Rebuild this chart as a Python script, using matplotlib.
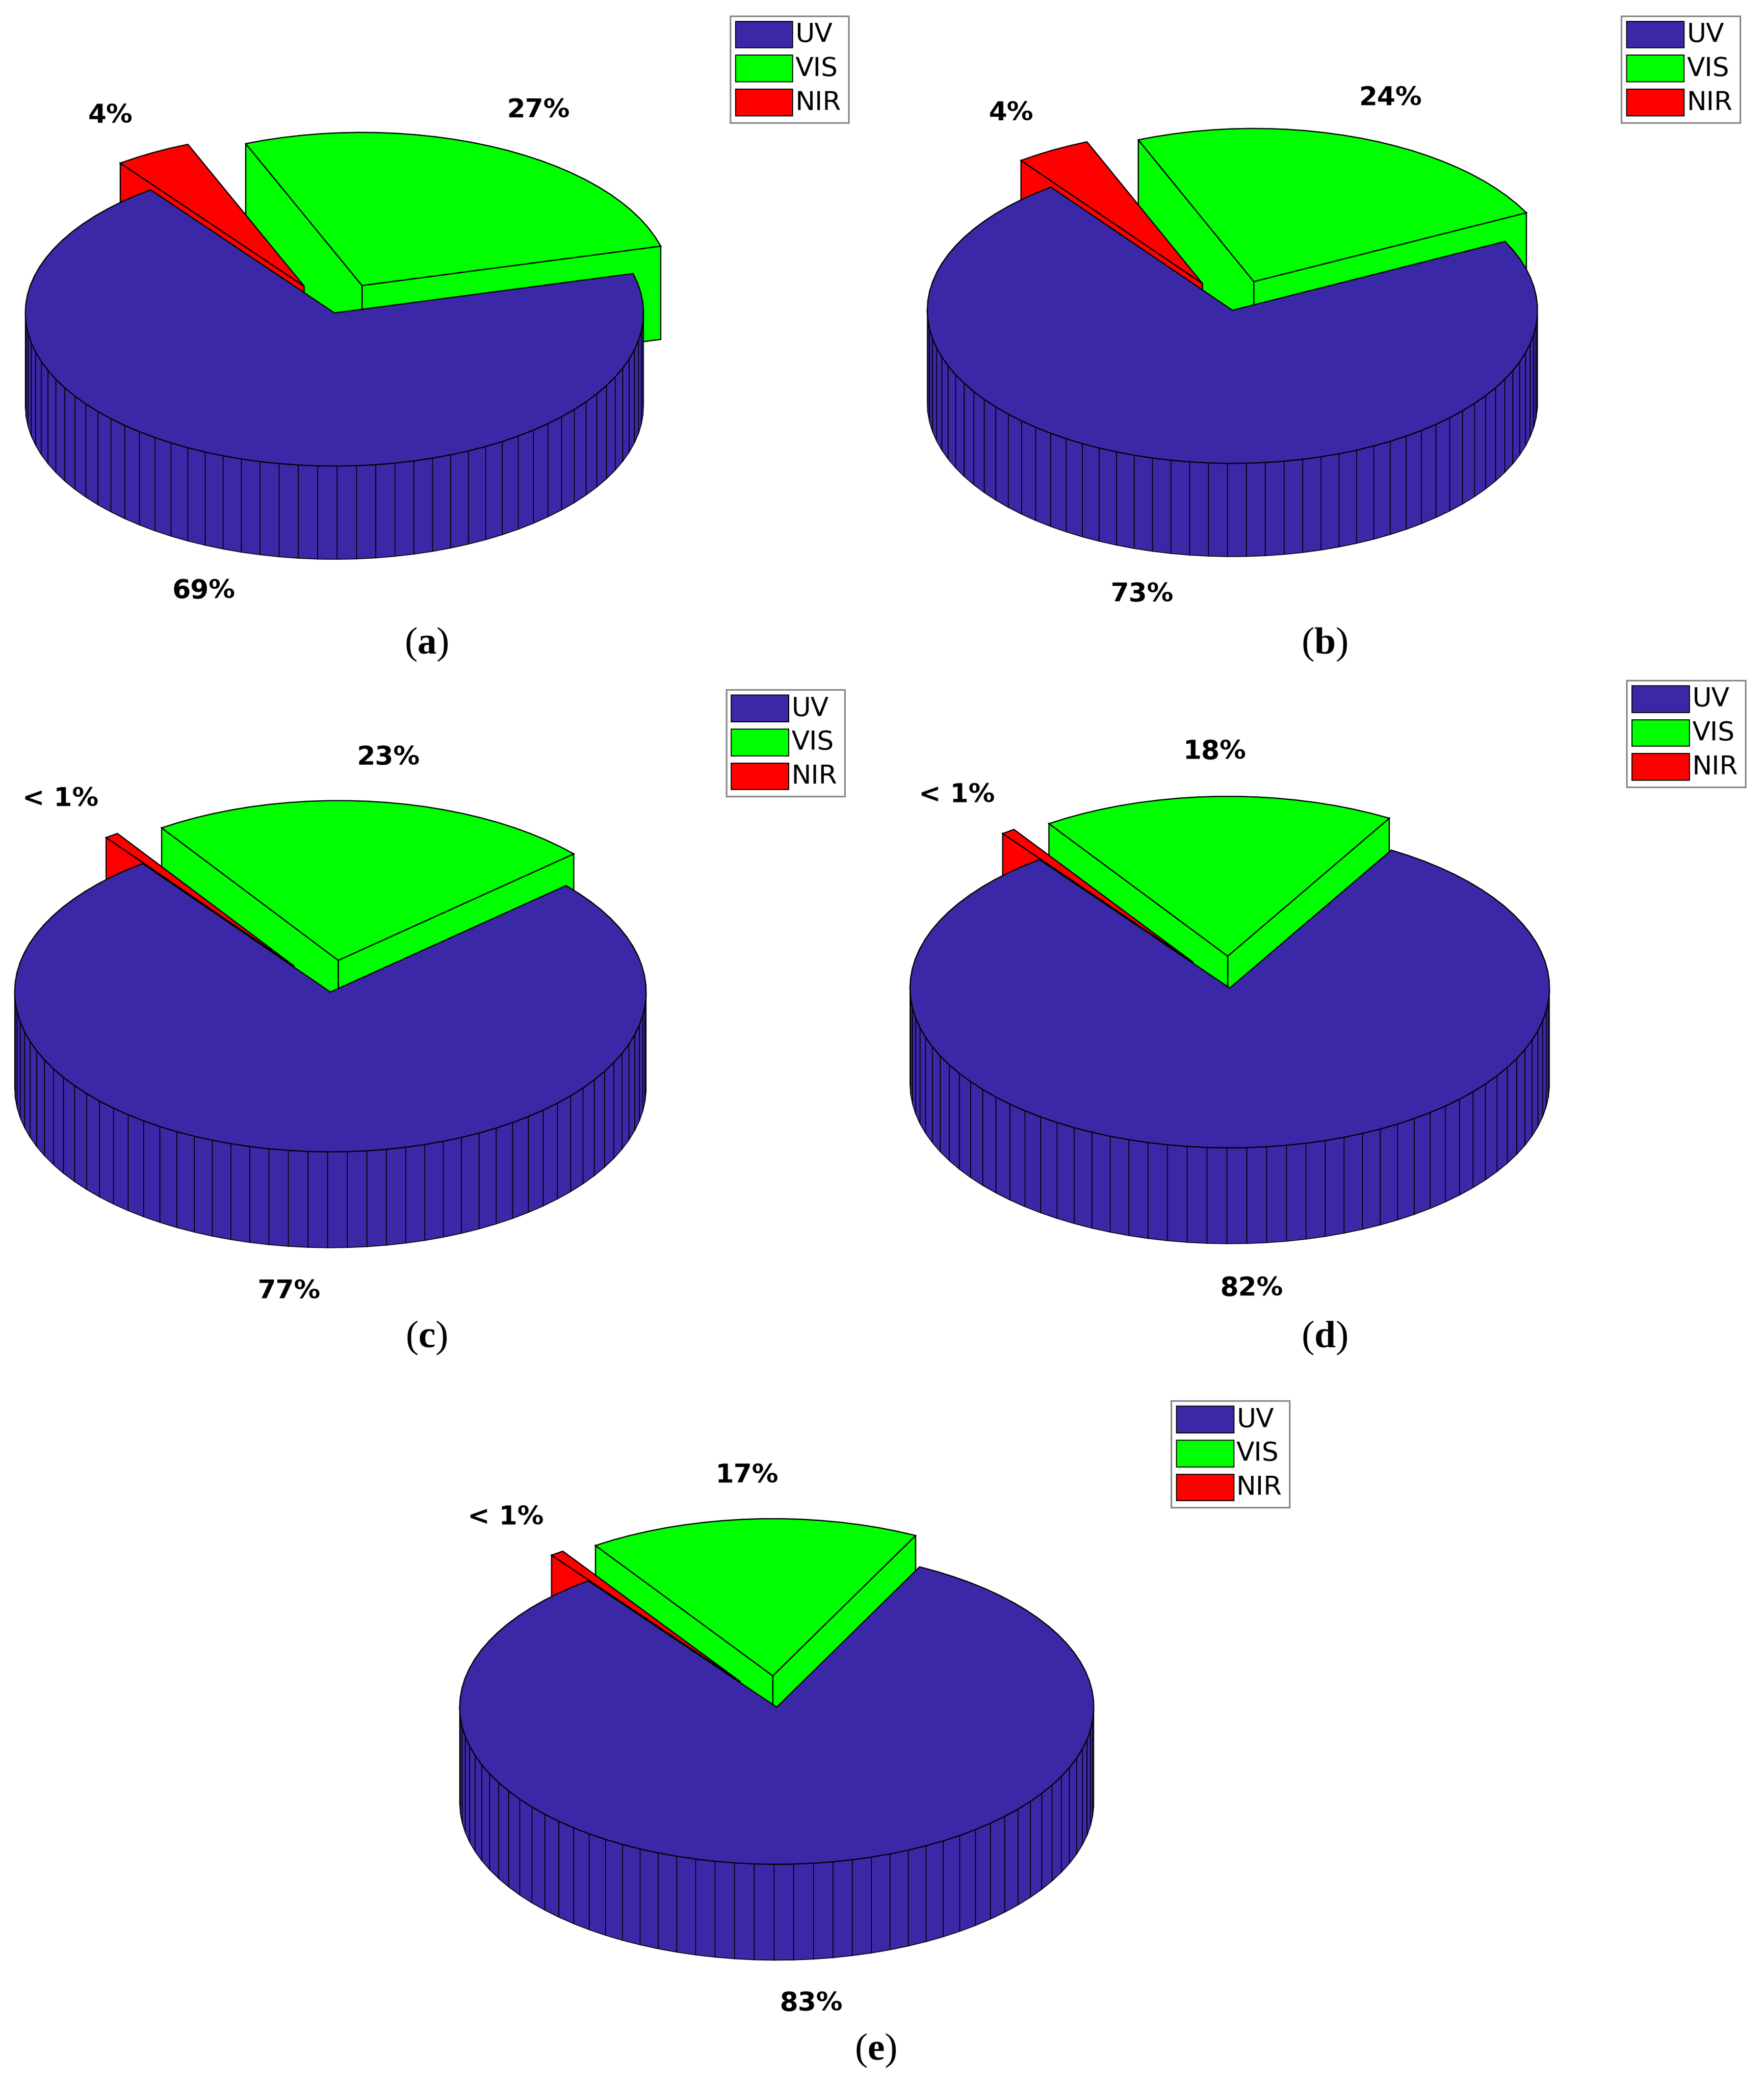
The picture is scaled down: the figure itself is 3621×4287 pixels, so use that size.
import numpy as np
import matplotlib
matplotlib.use("Agg")
import matplotlib.pyplot as plt
from matplotlib.patches import Polygon, Rectangle

plt.rcParams['mathtext.fontset'] = 'custom'
plt.rcParams['mathtext.rm'] = 'Liberation Serif'
plt.rcParams['mathtext.bf'] = 'Liberation Serif:bold'

categories = ["UV", "VIS", "NIR"]
colors = ["#3b28a6", "#00ff00", "#ff0000"]
panel_values = {
    "a": [69, 27, 4],
    "b": [73, 24, 4],
    "c": [77, 23, 0.7],
    "d": [82, 18, 0.7],
    "e": [83, 17, 0.7],
}
panel_labels = {
    "a": ["69%", "27%", "4%"],
    "b": ["73%", "24%", "4%"],
    "c": ["77%", "23%", "< 1%"],
    "d": ["82%", "18%", "< 1%"],
    "e": ["83%", "17%", "< 1%"],
}
explode = [0.0, 0.2, 0.2]

# layout (display units, image 1324 x 1568, y downward)
geom = {
    "a": dict(c=(251, 235), rx=232, ry=115, h=70, leg=(548, 12), cap=(320, 484)),
    "b": dict(c=(925, 233), rx=229, ry=115, h=70, leg=(1217, 12), cap=(994, 484)),
    "c": dict(c=(248, 745), rx=237, ry=120, h=72, leg=(545, 518), cap=(320, 1005)),
    "d": dict(c=(923, 742), rx=240, ry=120, h=72, leg=(1221, 511), cap=(994, 1005)),
    "e": dict(c=(583, 1282), rx=238, ry=118, h=72, leg=(879, 1052), cap=(657, 1540)),
}
START = 126.5

fig = plt.figure(figsize=(3621/300, 4287/300), dpi=300)
ax = fig.add_axes([0, 0, 1, 1])
ax.set_xlim(0, 1324)
ax.set_ylim(1568, 0)
ax.axis("off")


def draw_pie(key):
    g = geom[key]
    cx, cy = g["c"]; rx, ry, h = g["rx"], g["ry"], g["h"]
    vals = np.array(panel_values[key], float)
    fr = vals / vals.sum()

    def P(x, y, z):
        return (cx + rx * x, cy - ry * y - h * z)

    slices = []
    a = START
    for i, f in enumerate(fr):
        b = a + 360 * f
        slices.append((i, a, b))
        a = b
    # order back to front
    slices.sort(key=lambda s: -np.sin(np.radians((s[1] + s[2]) / 2)))
    for i, a, b in slices:
        m = np.radians((a + b) / 2)
        ox, oy = explode[i] * np.cos(m), explode[i] * np.sin(m)
        n = max(2, int(np.ceil((b - a) / 3.6)) + 1)
        t = np.radians(np.linspace(a, b, n))
        xs, ys = ox + np.cos(t), oy + np.sin(t)
        col = colors[i]
        z = 1
        # radial faces
        for ang, vis in ((a, np.cos(np.radians(a)) > 0), (b, np.cos(np.radians(b)) < 0)):
            if not vis:
                continue
            ex, ey = ox + np.cos(np.radians(ang)), oy + np.sin(np.radians(ang))
            pts = [P(ox, oy, 0), P(ex, ey, 0), P(ex, ey, -1), P(ox, oy, -1)]
            ax.add_patch(Polygon(pts, closed=True, fc=col, ec="k", lw=0.6, zorder=z))
        # outer wall
        for k in range(n - 1):
            tm = (t[k] + t[k + 1]) / 2
            if np.sin(tm) >= 0:
                continue
            pts = [P(xs[k], ys[k], 0), P(xs[k + 1], ys[k + 1], 0),
                   P(xs[k + 1], ys[k + 1], -1), P(xs[k], ys[k], -1)]
            ax.add_patch(Polygon(pts, closed=True, fc=col, ec="k", lw=0.4, zorder=z))
        # top
        pts = [P(ox, oy, 0)] + [P(x, y, 0) for x, y in zip(xs, ys)]
        ax.add_patch(Polygon(pts, closed=True, fc=col, ec="k", lw=0.6, zorder=z))
        # label
        r = 1.28
        lx, ly = ox + r * np.cos(m), oy + r * np.sin(m)
        zz = -1 if np.sin(m) < 0 else 0
        px, py = P(lx, ly, zz)
        ax.text(px, py, panel_labels[key][i], ha="center", va="center",
                fontsize=13, fontweight="bold", family="DejaVu Sans", zorder=5)

    # legend
    lx, ly = g["leg"]
    ax.add_patch(Rectangle((lx, ly), 89, 80, fc="white", ec="#888888", lw=0.8, zorder=6))
    for j, name in enumerate(categories):
        yy = ly + 4 + j * 25.5
        ax.add_patch(Rectangle((lx + 4, yy), 43, 20, fc=colors[j], ec="k", lw=0.5, zorder=7))
        ax.text(lx + 49, yy + 10, name, ha="left", va="center", fontsize=13,
                family="DejaVu Sans", zorder=7)
    # caption
    cx2, cy2 = g["cap"]
    ax.text(cx2, cy2, r"($\mathbf{%s}$)" % key, ha="center", va="center",
            fontsize=19, family="Liberation Serif")


for k in panel_values:
    draw_pie(k)

fig.savefig("out.png", dpi=300)
